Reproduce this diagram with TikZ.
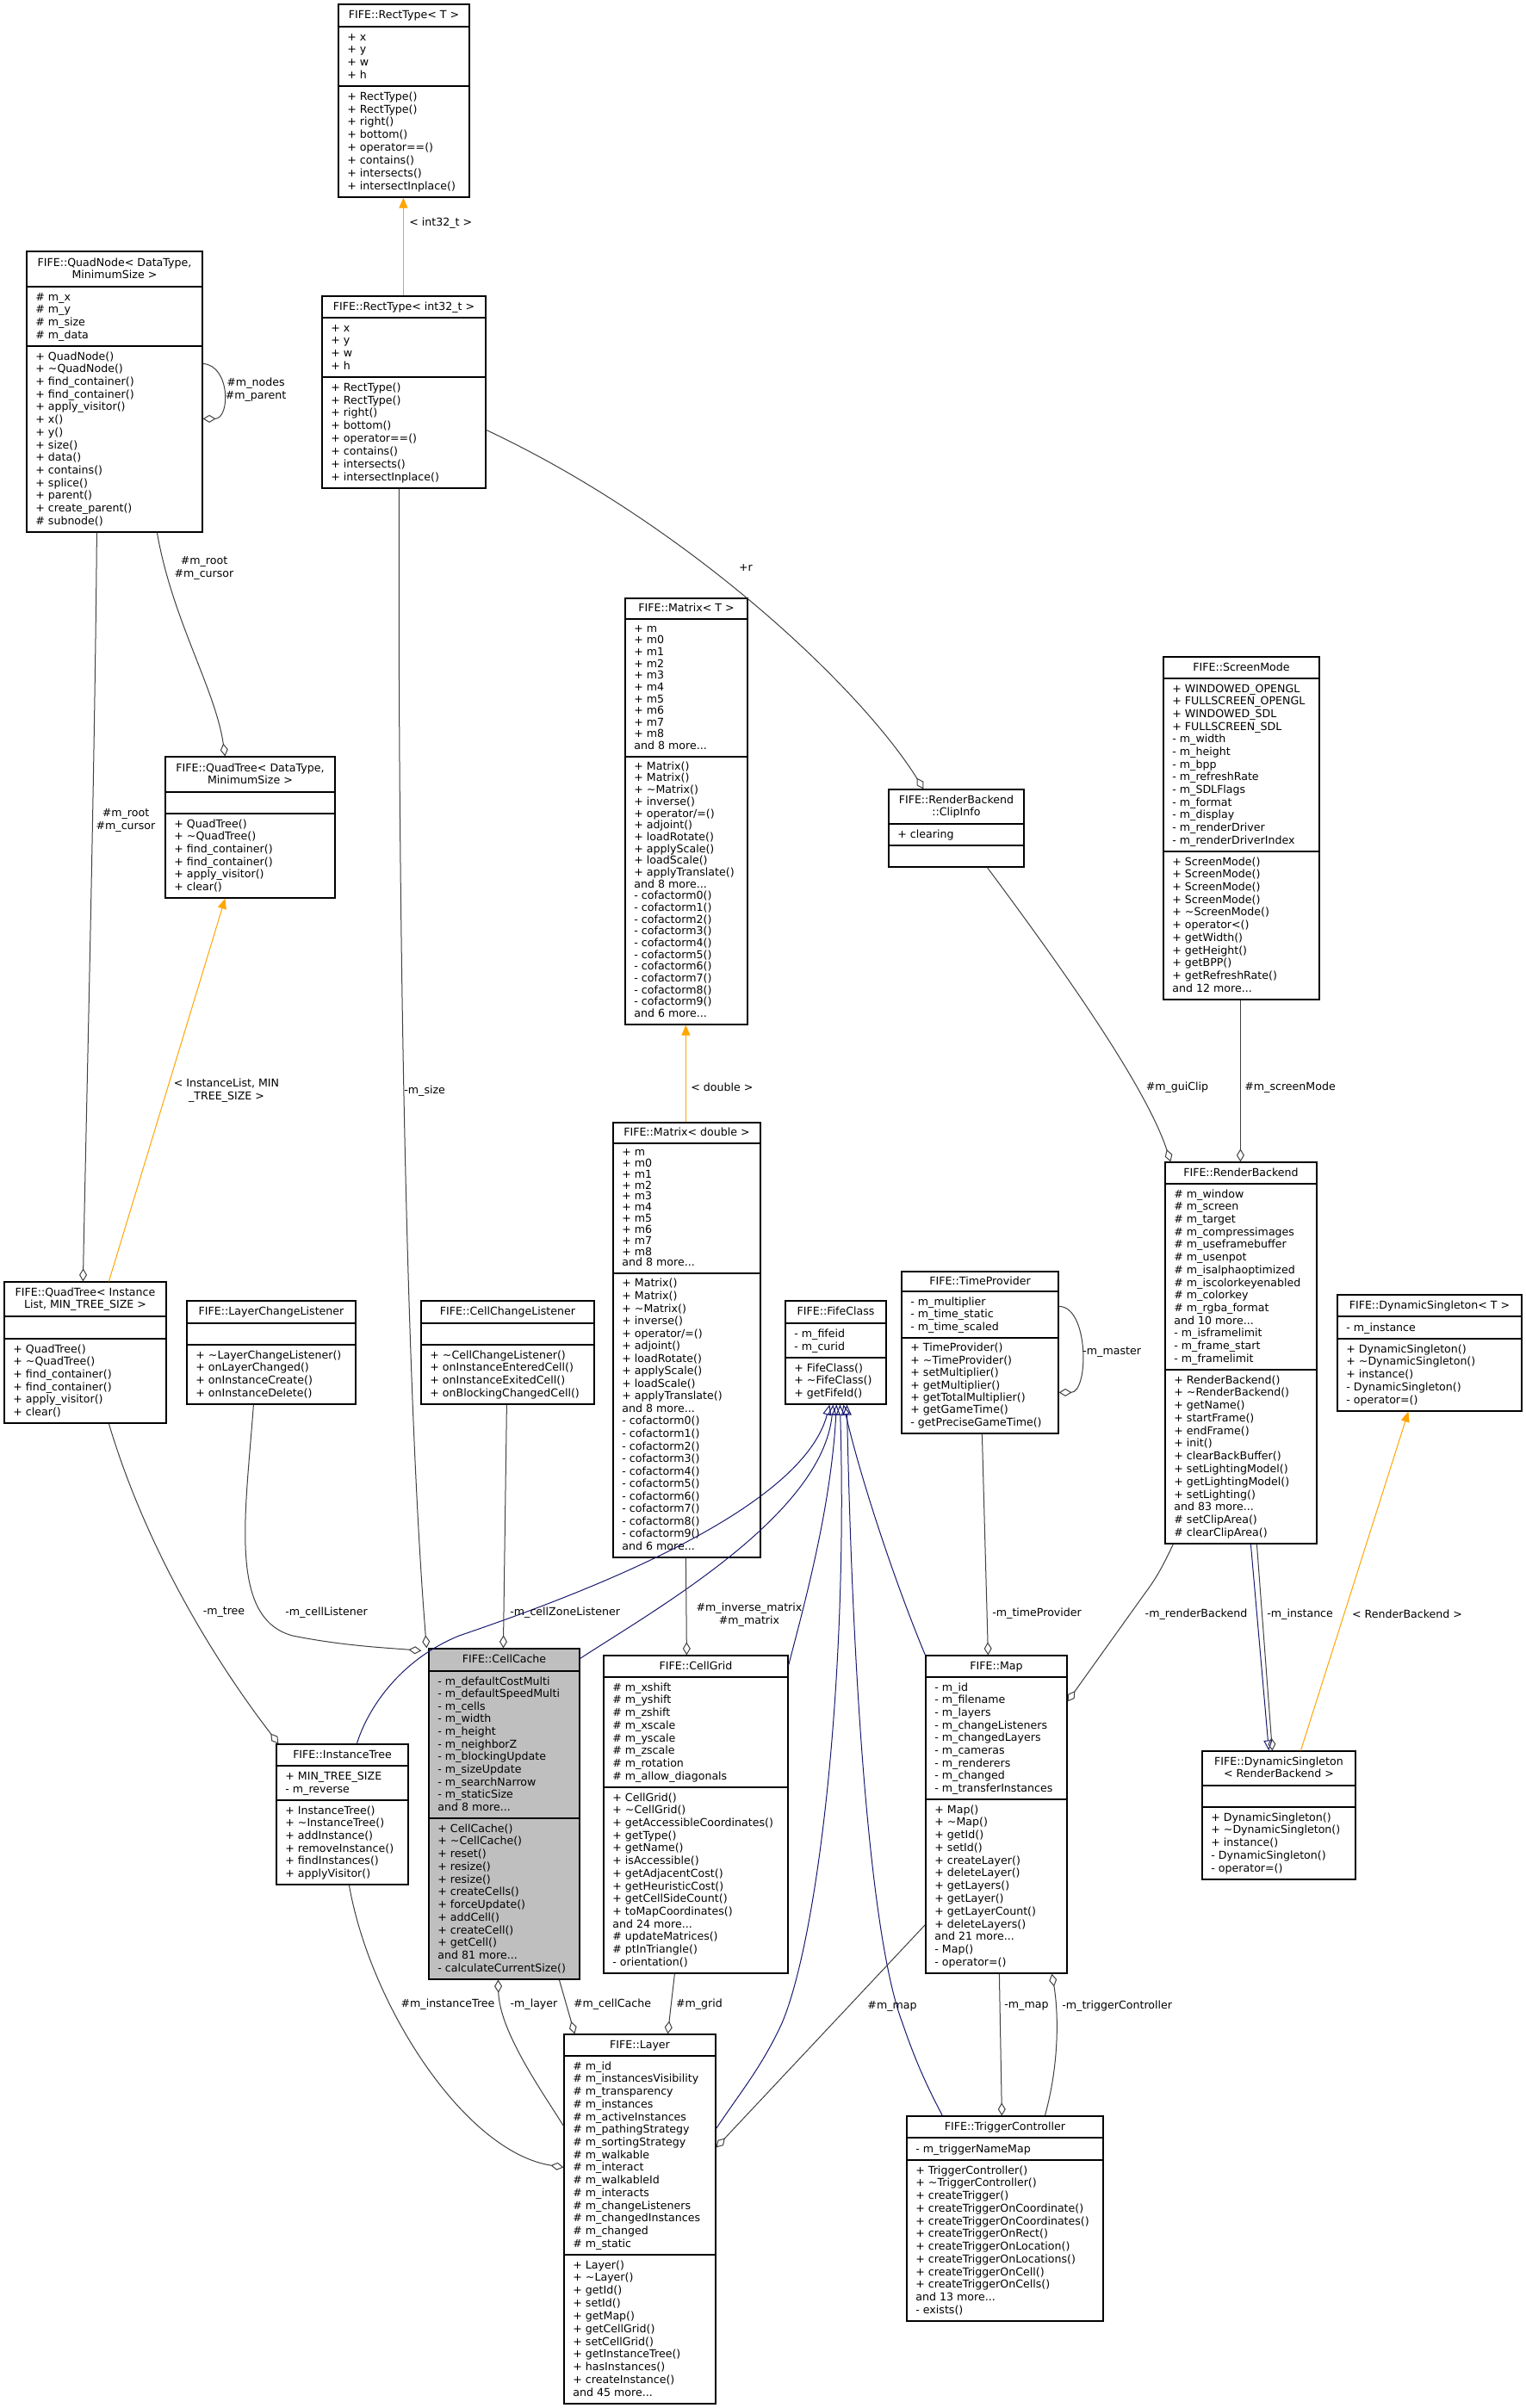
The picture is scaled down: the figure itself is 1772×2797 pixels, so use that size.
\documentclass[tikz,border=0pt]{standalone}
\usepackage{fontspec}
\setmainfont{DejaVu Sans}
\usetikzlibrary{arrows.meta,calc,fit}
\definecolor{edgegrey}{HTML}{404040}
\definecolor{inhblue}{HTML}{191970}
\definecolor{tmplorange}{HTML}{FFA500}
\definecolor{ccgrey}{HTML}{BFBFBF}
\newcommand\umlfont{\fontsize{6.3pt}{7.35pt}\selectfont}
\newcommand\tld{\textasciitilde}
\newcommand\mdots{...}
\newcount\umlcnt
\def\umlgeom#1,#2,#3,#4,#5,#6\relax{\def\bl{#1}\def\bt{#2}\def\br{#3}\def\bsa{#4}\def\bsb{#5}\def\bb{#6}}
\def\umltitle#1|#2|#3\relax{%
  \def\umlsecond{#2}%
  \ifx\umlsecond\empty
    \node[ttl] (\umlname t1) at ({(\bl+\br)/2},{(\bt+\bsa)/2+3.5}) {#1};
  \else
    \node[ttl] (\umlname t1) at ({(\bl+\br)/2},{(\bt+\bsa)/2-3.5}) {#1};
    \node[ttl] (\umlname t2) at ({(\bl+\br)/2},{(\bt+\bsa)/2+10.5}) {#2};
  \fi}
\newcommand\umlsection[4]{%
  \def\umltmp{#4}%
  \ifx\umltmp\empty\else
    \global\umlcnt=0
    \foreach \z in {#4}{\global\advance\umlcnt by 1}%
    \pgfmathsetmacro\umlls{(#3-#2-10)/\the\umlcnt}%
    \foreach \z [count=\i] in {#4}{%
      \pgfmathsetmacro\umly{#2+5+(\i-0.25)*\umlls}%
      \node[txt] (#1\i) at (\bl+10,\umly) {\z};
    }%
  \fi}
\newcommand\umlbox[6][white]{%
  \umlgeom#3\relax
  \def\umlname{#2}%
  \node[boxframe, fill=#1, fit={(\bl,\bt) (\br,\bb)}] (#2) {};
  \draw[boxline] (\bl,\bsa) -- (\br,\bsa) (\bl,\bsb) -- (\br,\bsb);
  \umltitle#4||\relax
  \umlsection{#2a}{\bsa}{\bsb}{#5}%
  \umlsection{#2m}{\bsb}{\bb}{#6}%
}
\tikzset{
  boxframe/.style={draw=black, line width=0.6pt, inner sep=0pt},
  boxline/.style={draw=black, line width=0.6pt},
  txt/.style={inner sep=0pt, anchor=base west, font=\umlfont},
  ttl/.style={inner sep=0pt, anchor=base, font=\umlfont},
  lbl/.style={inner sep=0pt, font=\umlfont, align=center},
  conn/.style={draw=edgegrey, line width=0.5pt},
  agg/.style={conn, -{Diamond[open, length=7.5pt, width=4.5pt]}},
  inh/.style={draw=inhblue, line width=0.5pt, -{Triangle[open, length=6pt, width=5pt]}},
  tmpl/.style={draw=tmplorange, line width=0.5pt, -{Triangle[length=6pt, width=5pt]}},
}
\begin{document}
\begin{tikzpicture}[x=0.5pt,y=-0.5pt]
\fill[white] (0,0) rectangle (1772,2797);
\useasboundingbox (0,0) rectangle (1772,2797);

% ---------- classes ----------
\umlbox{rectT}{393,5,545,31,100,229}{FIFE::RectType< T >}
 {+ x,+ y,+ w,+ h}
 {+ RectType(),+ RectType(),+ right(),+ bottom(),+ operator==(),+ contains(),+ intersects(),+ intersectInplace()}
\umlbox{rectI}{374,344,564,369,438,567}{FIFE::RectType< int32\_t >}
 {+ x,+ y,+ w,+ h}
 {+ RectType(),+ RectType(),+ right(),+ bottom(),+ operator==(),+ contains(),+ intersects(),+ intersectInplace()}
\umlbox{quadnode}{31,292,235,333,402,618}{FIFE::QuadNode< DataType,|MinimumSize >}
 {\# m\_x,\# m\_y,\# m\_size,\# m\_data}
 {+ QuadNode(),+ \tld QuadNode(),+ find\_container(),+ find\_container(),+ apply\_visitor(),+ x(),+ y(),+ size(),+ data(),+ contains(),+ splice(),+ parent(),+ create\_parent(),\# subnode()}
\umlbox{qtdt}{192,879,389,920,945,1043}{FIFE::QuadTree< DataType,|MinimumSize >}
 {}
 {+ QuadTree(),+ \tld QuadTree(),+ find\_container(),+ find\_container(),+ apply\_visitor(),+ clear()}
\umlbox{qtil}{5,1489,193,1529,1555,1653}{FIFE::QuadTree< Instance|List, MIN\_TREE\_SIZE >}
 {}
 {+ QuadTree(),+ \tld QuadTree(),+ find\_container(),+ find\_container(),+ apply\_visitor(),+ clear()}
\umlbox{lcl}{217,1511,413,1537,1562,1631}{FIFE::LayerChangeListener}
 {}
 {+ \tld LayerChangeListener(),+ onLayerChanged(),+ onInstanceCreate(),+ onInstanceDelete()}
\umlbox{ccl}{489,1511,690,1537,1562,1631}{FIFE::CellChangeListener}
 {}
 {+ \tld CellChangeListener(),+ onInstanceEnteredCell(),+ onInstanceExitedCell(),+ onBlockingChangedCell()}
\umlbox{fife}{912,1511,1029,1537,1577,1631}{FIFE::FifeClass}
 {- m\_fifeid,- m\_curid}
 {+ FifeClass(),+ \tld FifeClass(),+ getFifeId()}
\umlbox{matT}{726,695,868,719,879,1190}{FIFE::Matrix< T >}
 {+ m,+ m0,+ m1,+ m2,+ m3,+ m4,+ m5,+ m6,+ m7,+ m8,and 8 more\mdots}
 {+ Matrix(),+ Matrix(),+ \tld Matrix(),+ inverse(),+ operator/=(),+ adjoint(),+ loadRotate(),+ applyScale(),+ loadScale(),+ applyTranslate(),and 8 more\mdots,- cofactorm0(),- cofactorm1(),- cofactorm2(),- cofactorm3(),- cofactorm4(),- cofactorm5(),- cofactorm6(),- cofactorm7(),- cofactorm8(),- cofactorm9(),and 6 more\mdots}
\umlbox{matD}{712,1304,883,1328,1479,1809}{FIFE::Matrix< double >}
 {+ m,+ m0,+ m1,+ m2,+ m3,+ m4,+ m5,+ m6,+ m7,+ m8,and 8 more\mdots}
 {+ Matrix(),+ Matrix(),+ \tld Matrix(),+ inverse(),+ operator/=(),+ adjoint(),+ loadRotate(),+ applyScale(),+ loadScale(),+ applyTranslate(),and 8 more\mdots,- cofactorm0(),- cofactorm1(),- cofactorm2(),- cofactorm3(),- cofactorm4(),- cofactorm5(),- cofactorm6(),- cofactorm7(),- cofactorm8(),- cofactorm9(),and 6 more\mdots}
\umlbox{clip}{1032,917,1189,957,982,1007}{FIFE::RenderBackend|::ClipInfo}
 {+ clearing}
 {}
\umlbox{screen}{1351,763,1532,788,989,1161}{FIFE::ScreenMode}
 {+ WINDOWED\_OPENGL,+ FULLSCREEN\_OPENGL,+ WINDOWED\_SDL,+ FULLSCREEN\_SDL,- m\_width,- m\_height,- m\_bpp,- m\_refreshRate,- m\_SDLFlags,- m\_format,- m\_display,- m\_renderDriver,- m\_renderDriverIndex}
 {+ ScreenMode(),+ ScreenMode(),+ ScreenMode(),+ ScreenMode(),+ \tld ScreenMode(),+ operator<(),+ getWidth(),+ getHeight(),+ getBPP(),+ getRefreshRate(),and 12 more\mdots}
\umlbox{rb}{1353,1350,1529,1375,1591,1793}{FIFE::RenderBackend}
 {\# m\_window,\# m\_screen,\# m\_target,\# m\_compressimages,\# m\_useframebuffer,\# m\_usenpot,\# m\_isalphaoptimized,\# m\_iscolorkeyenabled,\# m\_colorkey,\# m\_rgba\_format,and 10 more\mdots,- m\_isframelimit,- m\_frame\_start,- m\_framelimit}
 {+ RenderBackend(),+ \tld RenderBackend(),+ getName(),+ startFrame(),+ endFrame(),+ init(),+ clearBackBuffer(),+ setLightingModel(),+ getLightingModel(),+ setLighting(),and 83 more\mdots,\# setClipArea(),\# clearClipArea()}
\umlbox{dsT}{1553,1504,1767,1529,1555,1639}{FIFE::DynamicSingleton< T >}
 {- m\_instance}
 {+ DynamicSingleton(),+ \tld DynamicSingleton(),+ instance(),- DynamicSingleton(),- operator=()}
\umlbox{dsRB}{1396,2034,1574,2074,2099,2183}{FIFE::DynamicSingleton|< RenderBackend >}
 {}
 {+ DynamicSingleton(),+ \tld DynamicSingleton(),+ instance(),- DynamicSingleton(),- operator=()}
\umlbox{tp}{1047,1477,1229,1500,1554,1665}{FIFE::TimeProvider}
 {- m\_multiplier,- m\_time\_static,- m\_time\_scaled}
 {+ TimeProvider(),+ \tld TimeProvider(),+ setMultiplier(),+ getMultiplier(),+ getTotalMultiplier(),+ getGameTime(),- getPreciseGameTime()}
\umlbox{map}{1075,1923,1239,1948,2090,2292}{FIFE::Map}
 {- m\_id,- m\_filename,- m\_layers,- m\_changeListeners,- m\_changedLayers,- m\_cameras,- m\_renderers,- m\_changed,- m\_transferInstances}
 {+ Map(),+ \tld Map(),+ getId(),+ setId(),+ createLayer(),+ deleteLayer(),+ getLayers(),+ getLayer(),+ getLayerCount(),+ deleteLayers(),and 21 more\mdots,- Map(),- operator=()}
\umlbox{itree}{321,2026,474,2051,2091,2189}{FIFE::InstanceTree}
 {+ MIN\_TREE\_SIZE,- m\_reverse}
 {+ InstanceTree(),+ \tld InstanceTree(),+ addInstance(),+ removeInstance(),+ findInstances(),+ applyVisitor()}
\umlbox[ccgrey]{cache}{498,1915,673,1941,2112,2299}{FIFE::CellCache}
 {- m\_defaultCostMulti,- m\_defaultSpeedMulti,- m\_cells,- m\_width,- m\_height,- m\_neighborZ,- m\_blockingUpdate,- m\_sizeUpdate,- m\_searchNarrow,- m\_staticSize,and 8 more\mdots}
 {+ CellCache(),+ \tld CellCache(),+ reset(),+ resize(),+ resize(),+ createCells(),+ forceUpdate(),+ addCell(),+ createCell(),+ getCell(),and 81 more\mdots,- calculateCurrentSize()}
\umlbox{grid}{701,1923,915,1948,2076,2292}{FIFE::CellGrid}
 {\# m\_xshift,\# m\_yshift,\# m\_zshift,\# m\_xscale,\# m\_yscale,\# m\_zscale,\# m\_rotation,\# m\_allow\_diagonals}
 {+ CellGrid(),+ \tld CellGrid(),+ getAccessibleCoordinates(),+ getType(),+ getName(),+ isAccessible(),+ getAdjacentCost(),+ getHeuristicCost(),+ getCellSideCount(),+ toMapCoordinates(),and 24 more\mdots,\# updateMatrices(),\# ptInTriangle(),- orientation()}
\umlbox{layer}{655,2363,831,2388,2619,2792}{FIFE::Layer}
 {\# m\_id,\# m\_instancesVisibility,\# m\_transparency,\# m\_instances,\# m\_activeInstances,\# m\_pathingStrategy,\# m\_sortingStrategy,\# m\_walkable,\# m\_interact,\# m\_walkableId,\# m\_interacts,\# m\_changeListeners,\# m\_changedInstances,\# m\_changed,\# m\_static}
 {+ Layer(),+ \tld Layer(),+ getId(),+ setId(),+ getMap(),+ getCellGrid(),+ setCellGrid(),+ getInstanceTree(),+ hasInstances(),+ createInstance(),and 45 more\mdots}
\umlbox{tc}{1053,2458,1281,2483,2509,2696}{FIFE::TriggerController}
 {- m\_triggerNameMap}
 {+ TriggerController(),+ \tld TriggerController(),+ createTrigger(),+ createTriggerOnCoordinate(),+ createTriggerOnCoordinates(),+ createTriggerOnRect(),+ createTriggerOnLocation(),+ createTriggerOnLocations(),+ createTriggerOnCell(),+ createTriggerOnCells(),and 13 more\mdots,- exists()}

% ---------- template instantiations ----------
\draw[tmpl] ($(rectI.north west)+(95,0)$) -- ($(rectT.south west)+(76,0)$);
\node[lbl, anchor=west] (l1) at (475,259) {< int32\_t >};
\draw[tmpl] ($(qtil.north west)+(122,0)$) -- ($(qtdt.south west)+(70,0)$);
\node[lbl] (l2) at (263,1267) {< InstanceList, MIN\\\_TREE\_SIZE >};
\draw[tmpl] ($(matD.north west)+(85,0)$) -- ($(matT.south west)+(71,0)$);
\node[lbl, anchor=west] (l3) at (802,1263) {< double >};
\draw[tmpl] ($(dsRB.north west)+(115,0)$) -- ($(dsT.south west)+(83,0)$);
\node[lbl] (l4) at (1634,1875) {< RenderBackend >};

% ---------- inheritance ----------
\draw[inh] ($(cache.north east)+(0,12)$) .. controls (760,1870) and (955,1760) .. ($(fife.south west)+(56,0)$);
\draw[inh] ($(itree.north west)+(94,0)$) .. controls (425,1990) and (460,1930) .. (533,1900) .. controls (650,1860) and (930,1760) .. ($(fife.south west)+(52,0)$);
\draw[inh] ($(grid.north east)+(0,12)$) .. controls (935,1860) and (965,1750) .. ($(fife.south west)+(60,0)$);
\draw[inh] (map.north west) .. controls (1040,1840) and (1000,1720) .. ($(fife.south west)+(68,0)$);
\draw[inh] ($(layer.north east)+(0,110)$) .. controls (860,2430) and (885,2400) .. (908,2350) .. controls (950,2250) and (985,1950) .. ($(fife.south west)+(64,0)$);
\draw[inh] ($(tc.north west)+(42,0)$) .. controls (1080,2430) and (1065,2400) .. (1048,2350) .. controls (1010,2250) and (990,1950) .. ($(fife.south west)+(72,0)$);
\draw[inh] ($(rb.south west)+(100,0)$) -- ($(dsRB.north west)+(78,0)$);

% ---------- associations ----------
\draw[agg] ($(quadnode.north east)+(0,131)$) .. controls ($(quadnode.north east)+(32,133)$) and ($(quadnode.north east)+(32,195)$) .. ($(quadnode.north east)+(0,195)$);
\node[lbl] (l5) at (297,453) {\#m\_nodes\\\#m\_parent};
\draw[agg] ($(quadnode.south west)+(152,0)$) .. controls (200,720) and (250,800) .. ($(qtdt.north west)+(70,0)$);
\node[lbl] (l6) at (237,660) {\#m\_root\\\#m\_cursor};
\draw[agg] ($(quadnode.south west)+(82,0)$) .. controls (110,900) and (100,1300) .. ($(qtil.north west)+(92,0)$);
\node[lbl] (l7) at (146,953) {\#m\_root\\\#m\_cursor};
\draw[agg] ($(rectI.north east)+(0,156)$) .. controls (800,610) and (1000,800) .. ($(clip.north west)+(41,0)$);
\node[lbl] (l8) at (866,660) {+r};
\draw[agg] ($(rectI.south west)+(90,0)$) .. controls (462,1000) and (470,1600) .. ($(cache.north west)+(-2,0)$);
\node[lbl, anchor=west] (l9) at (469,1267) {-m\_size};
\draw[agg] ($(lcl.south west)+(78,0)$) .. controls (285,1760) and (265,1880) .. (340,1900) .. controls (400,1912) and (450,1914) .. ($(cache.north west)+(-8,3)$);
\node[lbl] (l10) at (379,1873) {-m\_cellListener};
\draw[agg] ($(ccl.south west)+(100,0)$) -- ($(cache.north west)+(87,0)$);
\node[lbl, anchor=west] (l11) at (592,1873) {-m\_cellZoneListener};
\draw[agg] ($(matD.south west)+(85,0)$) -- ($(grid.north west)+(97,0)$);
\node[lbl] (l13) at (870,1876) {\#m\_inverse\_matrix\\\#m\_matrix};
\draw[agg] ($(tp.north east)+(0,41)$) .. controls ($(tp.north east)+(35,41)$) and ($(tp.north east)+(35,141)$) .. ($(tp.north east)+(0,141)$);
\node[lbl, anchor=west] (l14) at (1257,1571) {-m\_master};
\draw[agg] ($(tp.south west)+(94,0)$) -- ($(map.north west)+(73,0)$);
\node[lbl, anchor=west] (l15) at (1152,1874) {-m\_timeProvider};
\draw[agg] ($(rb.south west)+(10,0)$) .. controls (1352,1815) and (1345,1830) .. (1330,1850) -- ($(map.north east)+(0,54)$);
\node[lbl] (l16) at (1389,1875) {-m\_renderBackend};
\draw[agg] ($(rb.south west)+(107,0)$) -- ($(dsRB.north west)+(82,0)$);
\node[lbl, anchor=west] (l17) at (1471,1875) {-m\_instance};
\draw[agg] ($(screen.south west)+(90,0)$) -- ($(rb.north west)+(88,0)$);
\node[lbl, anchor=west] (l18) at (1445,1263) {\#m\_screenMode};
\draw[agg] ($(clip.south west)+(115,0)$) .. controls (1230,1120) and (1330,1260) .. ($(rb.north west)+(7,0)$);
\node[lbl] (l19) at (1367,1263) {\#m\_guiClip};
\draw[agg] ($(qtil.south west)+(122,0)$) .. controls (170,1800) and (250,1930) .. ($(itree.north west)+(3,0)$);
\node[lbl] (l20) at (260,1873) {-m\_tree};
\draw[agg] ($(itree.south west)+(85,0)$) .. controls (430,2330) and (540,2500) .. ($(layer.north west)+(0,155)$);
\node[lbl] (l21) at (520,2328) {\#m\_instanceTree};
\draw[agg] ($(layer.north west)+(0,107)$) .. controls (630,2430) and (580,2360) .. ($(cache.south west)+(81,0)$);
\node[lbl] (l22) at (620,2328) {-m\_layer};
\draw[agg] ($(cache.south west)+(152,0)$) -- ($(layer.north west)+(13,0)$);
\node[lbl] (l23) at (711,2328) {\#m\_cellCache};
\draw[agg] ($(grid.south west)+(83,0)$) -- ($(layer.north west)+(121,0)$);
\node[lbl] (l24) at (812,2328) {\#m\_grid};
\draw[agg] ($(map.south west)+(0,-57)$) -- ($(layer.north east)+(0,132)$);
\node[lbl] (l25) at (1036,2330) {\#m\_map};
\draw[agg] ($(map.south west)+(86,0)$) -- ($(tc.north west)+(111,0)$);
\node[lbl, anchor=west] (l26) at (1166,2330) {-m\_map};
\draw[agg] ($(tc.north west)+(161,0)$) .. controls (1232,2390) and (1228,2330) .. ($(map.south west)+(147,0)$);
\node[lbl, anchor=west] (l27) at (1233,2330) {-m\_triggerController};
\end{tikzpicture}
\end{document}
